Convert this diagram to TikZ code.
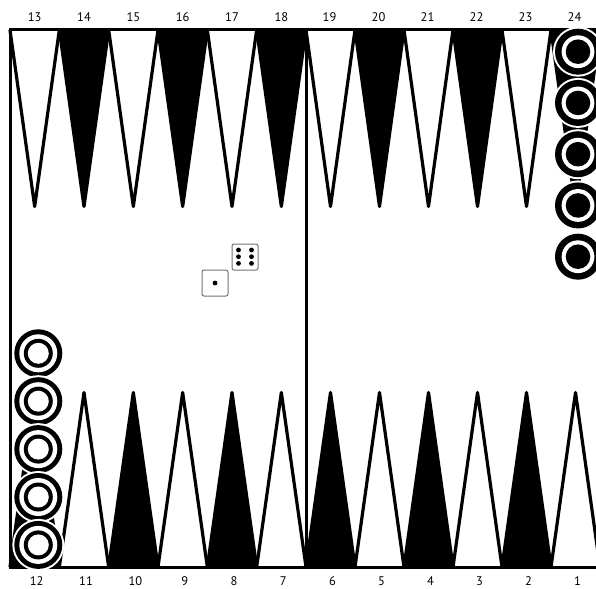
\documentclass[tikz,border=0pt]{standalone}
\usepackage{fontspec}
\setmainfont{PT Sans}
\begin{document}
\begin{tikzpicture}[x=1pt,y=-1pt,
  pointw/.style={draw=black,line width=3.2pt,fill=white,line join=round},
  pointb/.style={draw=black,line width=3.2pt,fill=black,line join=round},
  border/.style={line width=3pt,line join=miter},
  lbl/.style={font=\fontsize{12.5}{14}\selectfont,inner sep=0pt},
  die/.style={draw=black!55,line width=1pt,fill=white,rounded corners=2pt,minimum size=26pt,inner sep=0pt},
  pip/.style={fill=black,circle,inner sep=0pt,minimum size=4.8pt}
]
\useasboundingbox (0,0) rectangle (596,588);
\fill[white] (0,0) rectangle (596,588);
\begin{scope}
\clip (0,0) rectangle (596,588);
% left half points
\foreach \i in {0,...,5} {
  \pgfmathsetmacro\xa{10+\i*49.333}
  \pgfmathsetmacro\xb{\xa+49.333}
  \pgfmathsetmacro\xc{\xa+24.667}
  \pgfmathtruncatemacro\tnum{13+\i}
  \pgfmathtruncatemacro\bnum{12-\i}
  \pgfmathtruncatemacro\oddq{mod(\i,2)}
  \ifnum\oddq=0 \def\tsty{pointw}\def\bsty{pointb}\else\def\tsty{pointb}\def\bsty{pointw}\fi
  \draw[\tsty] (\xa,30) -- (\xc,206.5) -- (\xb,30);
  \draw[\bsty] (\xa,567) -- (\xc,392.5) -- (\xb,567);
  \node[lbl] (t\tnum) at (\xc,17) {\tnum};
  \node[lbl] (b\bnum) at (\xc+2,581) {\bnum};
}
% right half points
\foreach \i in {0,...,5} {
  \pgfmathsetmacro\xa{306+\i*49}
  \pgfmathsetmacro\xb{\xa+49}
  \pgfmathsetmacro\xc{\xa+24.5}
  \pgfmathtruncatemacro\tnum{19+\i}
  \pgfmathtruncatemacro\bnum{6-\i}
  \pgfmathtruncatemacro\oddq{mod(\i,2)}
  \ifnum\oddq=0 \def\tsty{pointw}\def\bsty{pointb}\else\def\tsty{pointb}\def\bsty{pointw}\fi
  \draw[\tsty] (\xa,30) -- (\xc,206.5) -- (\xb,30);
  \draw[\bsty] (\xa,567) -- (\xc,392.5) -- (\xb,567);
  \node[lbl] (t\tnum) at (\xc-1,17) {\tnum};
  \node[lbl] (b\bnum) at (\xc+2,581) {\bnum};
}
% board frame
\draw[border] (602,30) -- (10,30) -- (10,567) -- (602,567);
\draw[border] (306,30) -- (306,567);
% checkers on point 24
\foreach \k in {0,...,4} {
  \pgfmathsetmacro\cy{51.7+\k*51.25}
  \fill[white] (578,\cy) circle (25pt);
  \fill[black] (578,\cy) circle (23pt);
  \fill[white] (578,\cy) circle (16.4pt);
  \fill[black] (578,\cy) circle (12.3pt);
}
% checkers on point 12
\foreach \k in {0,...,4} {
  \pgfmathsetmacro\cy{353.3+\k*47.9}
  \fill[white] (38.3,\cy) circle (26pt);
  \fill[black] (38.3,\cy) circle (24pt);
  \fill[white] (38.3,\cy) circle (19pt);
  \fill[black] (38.3,\cy) circle (14.5pt);
  \fill[white] (38.3,\cy) circle (10.5pt);
}
\end{scope}
% dice
\node[die] (d6) at (245,257) {};
\foreach \px/\py [count=\n] in {238.5/250,251.5/250,238.5/256.7,251.5/256.7,238.5/263.4,251.5/263.4}
  \node[pip] (p6\n) at (\px,\py) {};
\node[die] (d1) at (215,283) {};
\node[pip] (p1) at (d1.center) {};
\end{tikzpicture}
\end{document}
